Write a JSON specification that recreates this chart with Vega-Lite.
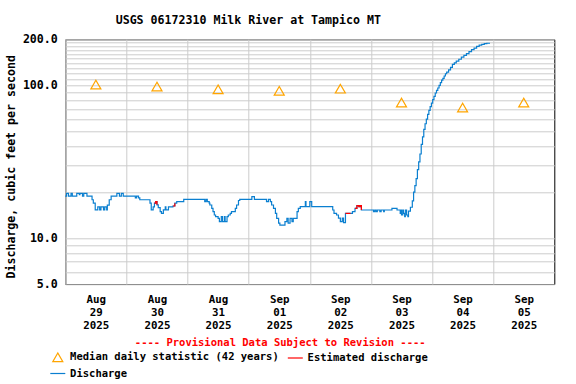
{
  "$schema": "https://vega.github.io/schema/vega-lite/v6.json",
  "width": 489,
  "height": 244.7,
  "autosize": {"type": "none"},
  "padding": {"left": 65.3, "top": 39.3, "right": 21.7, "bottom": 100},
  "background": "#ffffff",
  "config": {
    "font": "DejaVu Sans Mono",
    "view": {"stroke": "#000000", "strokeWidth": 1},
    "axis": {
      "labelFont": "DejaVu Sans Mono", "labelFontWeight": "bold", "labelColor": "#000000",
      "titleFont": "DejaVu Sans Mono", "titleFontWeight": "bold", "titleColor": "#000000",
      "gridColor": "#cccccc", "gridOpacity": 1, "gridWidth": 1,
      "domain": false, "ticks": false, "tickSize": 0,
      "labelOverlap": false, "labelFlush": false, "labelBound": false
    }
  },
  "title": {
    "text": "USGS 06172310 Milk River at Tampico MT",
    "font": "DejaVu Sans Mono", "fontWeight": "bold", "fontSize": 11.6, "color": "#000000",
    "anchor": "middle", "frame": "group", "dx": -61.5, "offset": -2, "baseline": "alphabetic"
  },
  "datasets": {
    "discharge": [
      {"t":"2025-08-29T00:00","v":18.8,"s":"Discharge"},{"t":"2025-08-29T00:30","v":19.6,"s":"Discharge"},{"t":"2025-08-29T01:15","v":18.8,"s":"Discharge"},{"t":"2025-08-29T02:15","v":19.6,"s":"Discharge"},{"t":"2025-08-29T02:45","v":18.8,"s":"Discharge"},{"t":"2025-08-29T04:30","v":19.6,"s":"Discharge"},{"t":"2025-08-29T05:30","v":19.2,"s":"Discharge"},{"t":"2025-08-29T05:45","v":19.6,"s":"Discharge"},{"t":"2025-08-29T06:45","v":18.8,"s":"Discharge"},{"t":"2025-08-29T07:15","v":19.6,"s":"Discharge"},{"t":"2025-08-29T08:30","v":18.8,"s":"Discharge"},{"t":"2025-08-29T10:30","v":17.8,"s":"Discharge"},{"t":"2025-08-29T11:00","v":16.9,"s":"Discharge"},{"t":"2025-08-29T11:45","v":15.3,"s":"Discharge"},{"t":"2025-08-29T12:45","v":16.0,"s":"Discharge"},{"t":"2025-08-29T13:30","v":15.3,"s":"Discharge"},{"t":"2025-08-29T14:00","v":16.0,"s":"Discharge"},{"t":"2025-08-29T15:00","v":15.3,"s":"Discharge"},{"t":"2025-08-29T15:30","v":16.0,"s":"Discharge"},{"t":"2025-08-29T16:15","v":15.3,"s":"Discharge"},{"t":"2025-08-29T16:30","v":16.4,"s":"Discharge"},{"t":"2025-08-29T17:15","v":17.8,"s":"Discharge"},{"t":"2025-08-29T18:00","v":18.8,"s":"Discharge"},{"t":"2025-08-29T20:15","v":19.6,"s":"Discharge"},{"t":"2025-08-29T21:15","v":18.8,"s":"Discharge"},{"t":"2025-08-29T22:00","v":19.6,"s":"Discharge"},{"t":"2025-08-29T22:45","v":18.8,"s":"Discharge"},
      {"t":"2025-08-30T03:30","v":18.3,"s":"Discharge"},{"t":"2025-08-30T04:00","v":18.8,"s":"Discharge"},{"t":"2025-08-30T04:45","v":18.3,"s":"Discharge"},{"t":"2025-08-30T05:15","v":17.8,"s":"Discharge"},{"t":"2025-08-30T09:15","v":16.9,"s":"Discharge"},{"t":"2025-08-30T09:45","v":15.3,"s":"Discharge"},{"t":"2025-08-30T10:30","v":16.0,"s":"Discharge"},{"t":"2025-08-30T11:00","v":16.9,"s":"Discharge"},{"t":"2025-08-30T11:30","v":17.3,"s":"Discharge"},{"t":"2025-08-30T12:00","v":16.5,"s":"Discharge"},{"t":"2025-08-30T12:30","v":15.8,"s":"Discharge"},{"t":"2025-08-30T13:15","v":14.9,"s":"Discharge"},{"t":"2025-08-30T13:45","v":14.5,"s":"Discharge"},{"t":"2025-08-30T14:30","v":15.3,"s":"Discharge"},{"t":"2025-08-30T15:15","v":16.0,"s":"Discharge"},{"t":"2025-08-30T15:30","v":15.3,"s":"Discharge"},{"t":"2025-08-30T16:30","v":16.0,"s":"Discharge"},{"t":"2025-08-30T18:15","v":16.2,"s":"Discharge"},{"t":"2025-08-30T19:00","v":16.9,"s":"Discharge"},{"t":"2025-08-30T19:45","v":17.3,"s":"Discharge"},{"t":"2025-08-30T22:30","v":17.9,"s":"Discharge"},
      {"t":"2025-08-31T06:45","v":17.3,"s":"Discharge"},{"t":"2025-08-31T07:15","v":17.9,"s":"Discharge"},{"t":"2025-08-31T07:45","v":17.3,"s":"Discharge"},{"t":"2025-08-31T08:30","v":16.9,"s":"Discharge"},{"t":"2025-08-31T08:45","v":16.45,"s":"Discharge"},{"t":"2025-08-31T09:30","v":15.65,"s":"Discharge"},{"t":"2025-08-31T10:00","v":14.9,"s":"Discharge"},{"t":"2025-08-31T10:30","v":14.15,"s":"Discharge"},{"t":"2025-08-31T11:00","v":13.8,"s":"Discharge"},{"t":"2025-08-31T12:00","v":13.46,"s":"Discharge"},{"t":"2025-08-31T12:30","v":12.8,"s":"Discharge"},{"t":"2025-08-31T13:15","v":13.8,"s":"Discharge"},{"t":"2025-08-31T13:45","v":12.8,"s":"Discharge"},{"t":"2025-08-31T14:30","v":13.8,"s":"Discharge"},{"t":"2025-08-31T14:45","v":12.8,"s":"Discharge"},{"t":"2025-08-31T15:30","v":13.8,"s":"Discharge"},{"t":"2025-08-31T16:00","v":14.15,"s":"Discharge"},{"t":"2025-08-31T16:45","v":14.5,"s":"Discharge"},{"t":"2025-08-31T17:15","v":14.9,"s":"Discharge"},{"t":"2025-08-31T18:45","v":15.65,"s":"Discharge"},{"t":"2025-08-31T19:15","v":16.45,"s":"Discharge"},{"t":"2025-08-31T20:00","v":17.6,"s":"Discharge"},{"t":"2025-08-31T20:30","v":17.9,"s":"Discharge"},
      {"t":"2025-09-01T01:15","v":18.65,"s":"Discharge"},{"t":"2025-09-01T02:15","v":17.9,"s":"Discharge"},{"t":"2025-09-01T07:00","v":17.3,"s":"Discharge"},{"t":"2025-09-01T07:45","v":17.9,"s":"Discharge"},{"t":"2025-09-01T08:30","v":17.3,"s":"Discharge"},{"t":"2025-09-01T09:00","v":16.45,"s":"Discharge"},{"t":"2025-09-01T09:45","v":15.65,"s":"Discharge"},{"t":"2025-09-01T10:30","v":14.5,"s":"Discharge"},{"t":"2025-09-01T11:00","v":13.46,"s":"Discharge"},{"t":"2025-09-01T11:45","v":12.5,"s":"Discharge"},{"t":"2025-09-01T12:15","v":12.16,"s":"Discharge"},{"t":"2025-09-01T14:15","v":12.8,"s":"Discharge"},{"t":"2025-09-01T15:00","v":13.46,"s":"Discharge"},{"t":"2025-09-01T15:30","v":12.5,"s":"Discharge"},{"t":"2025-09-01T16:15","v":13.46,"s":"Discharge"},{"t":"2025-09-01T17:00","v":12.8,"s":"Discharge"},{"t":"2025-09-01T17:30","v":13.46,"s":"Discharge"},{"t":"2025-09-01T19:00","v":14.9,"s":"Discharge"},{"t":"2025-09-01T19:30","v":15.65,"s":"Discharge"},{"t":"2025-09-01T20:15","v":16.03,"s":"Discharge"},{"t":"2025-09-01T22:15","v":17.3,"s":"Discharge"},{"t":"2025-09-01T22:30","v":16.03,"s":"Discharge"},
      {"t":"2025-09-02T00:00","v":17.3,"s":"Discharge"},{"t":"2025-09-02T00:45","v":16.03,"s":"Discharge"},{"t":"2025-09-02T09:00","v":15.26,"s":"Discharge"},{"t":"2025-09-02T09:30","v":14.5,"s":"Discharge"},{"t":"2025-09-02T10:30","v":14.15,"s":"Discharge"},{"t":"2025-09-02T11:15","v":13.5,"s":"Discharge"},{"t":"2025-09-02T12:00","v":12.8,"s":"Discharge"},{"t":"2025-09-02T12:45","v":13.5,"s":"Discharge"},{"t":"2025-09-02T13:15","v":12.6,"s":"Discharge"},{"t":"2025-09-02T14:00","v":14.5,"s":"Discharge"},{"t":"2025-09-02T16:45","v":14.9,"s":"Discharge"},{"t":"2025-09-02T17:45","v":15.65,"s":"Discharge"},{"t":"2025-09-02T18:30","v":16.3,"s":"Discharge"},{"t":"2025-09-02T19:15","v":16.03,"s":"Discharge"},{"t":"2025-09-02T19:45","v":16.3,"s":"Discharge"},{"t":"2025-09-02T20:15","v":15.26,"s":"Discharge"},
      {"t":"2025-09-03T01:00","v":14.9,"s":"Discharge"},{"t":"2025-09-03T01:30","v":15.26,"s":"Discharge"},{"t":"2025-09-03T02:00","v":14.9,"s":"Discharge"},{"t":"2025-09-03T02:30","v":15.26,"s":"Discharge"},{"t":"2025-09-03T03:30","v":14.9,"s":"Discharge"},{"t":"2025-09-03T04:00","v":15.26,"s":"Discharge"},{"t":"2025-09-03T05:00","v":14.9,"s":"Discharge"},{"t":"2025-09-03T05:15","v":15.26,"s":"Discharge"},{"t":"2025-09-03T08:15","v":15.65,"s":"Discharge"},{"t":"2025-09-03T10:15","v":15.26,"s":"Discharge"},{"t":"2025-09-03T11:30","v":14.5,"s":"Discharge"},{"t":"2025-09-03T11:45","v":15.26,"s":"Discharge"},{"t":"2025-09-03T12:00","v":14.15,"s":"Discharge"},{"t":"2025-09-03T12:30","v":15.26,"s":"Discharge"},{"t":"2025-09-03T12:45","v":14.5,"s":"Discharge"},{"t":"2025-09-03T13:15","v":13.8,"s":"Discharge"},{"t":"2025-09-03T13:30","v":15.26,"s":"Discharge"},{"t":"2025-09-03T14:00","v":14.15,"s":"Discharge"},{"t":"2025-09-03T14:30","v":13.8,"s":"Discharge"},{"t":"2025-09-03T14:45","v":15.0,"s":"Discharge"},{"t":"2025-09-03T15:30","v":15.9,"s":"Discharge"},{"t":"2025-09-03T16:15","v":17.5,"s":"Discharge"},{"t":"2025-09-03T16:45","v":20.0,"s":"Discharge"},{"t":"2025-09-03T17:15","v":22.0,"s":"Discharge"},{"t":"2025-09-03T17:45","v":24.5,"s":"Discharge"},{"t":"2025-09-03T18:15","v":28.0,"s":"Discharge"},{"t":"2025-09-03T18:45","v":31.5,"s":"Discharge"},{"t":"2025-09-03T19:15","v":35.5,"s":"Discharge"},{"t":"2025-09-03T19:45","v":41.0,"s":"Discharge"},{"t":"2025-09-03T20:15","v":46.0,"s":"Discharge"},{"t":"2025-09-03T20:45","v":51.5,"s":"Discharge"},{"t":"2025-09-03T21:15","v":56.0,"s":"Discharge"},{"t":"2025-09-03T21:45","v":60.0,"s":"Discharge"},{"t":"2025-09-03T22:15","v":64.5,"s":"Discharge"},{"t":"2025-09-03T22:45","v":68.5,"s":"Discharge"},{"t":"2025-09-03T23:15","v":72.5,"s":"Discharge"},{"t":"2025-09-03T23:45","v":76.5,"s":"Discharge"},
      {"t":"2025-09-04T00:15","v":80.5,"s":"Discharge"},{"t":"2025-09-04T00:45","v":84.5,"s":"Discharge"},{"t":"2025-09-04T01:15","v":89.0,"s":"Discharge"},{"t":"2025-09-04T01:45","v":92.5,"s":"Discharge"},{"t":"2025-09-04T02:15","v":96.0,"s":"Discharge"},{"t":"2025-09-04T02:45","v":100,"s":"Discharge"},{"t":"2025-09-04T03:15","v":104,"s":"Discharge"},{"t":"2025-09-04T03:45","v":108,"s":"Discharge"},{"t":"2025-09-04T04:15","v":111,"s":"Discharge"},{"t":"2025-09-04T04:45","v":115,"s":"Discharge"},{"t":"2025-09-04T05:15","v":119,"s":"Discharge"},{"t":"2025-09-04T05:45","v":122,"s":"Discharge"},{"t":"2025-09-04T06:30","v":126,"s":"Discharge"},{"t":"2025-09-04T07:15","v":131,"s":"Discharge"},{"t":"2025-09-04T08:00","v":137,"s":"Discharge"},{"t":"2025-09-04T08:45","v":140,"s":"Discharge"},{"t":"2025-09-04T09:30","v":144,"s":"Discharge"},{"t":"2025-09-04T10:30","v":148,"s":"Discharge"},{"t":"2025-09-04T11:30","v":153,"s":"Discharge"},{"t":"2025-09-04T12:30","v":157,"s":"Discharge"},{"t":"2025-09-04T13:30","v":161,"s":"Discharge"},{"t":"2025-09-04T14:30","v":166,"s":"Discharge"},{"t":"2025-09-04T15:30","v":171,"s":"Discharge"},{"t":"2025-09-04T16:30","v":175,"s":"Discharge"},{"t":"2025-09-04T17:30","v":180,"s":"Discharge"},{"t":"2025-09-04T18:30","v":183,"s":"Discharge"},{"t":"2025-09-04T19:30","v":185.5,"s":"Discharge"},{"t":"2025-09-04T20:30","v":187.5,"s":"Discharge"},{"t":"2025-09-04T21:30","v":188.5,"s":"Discharge"},{"t":"2025-09-04T22:45","v":188.5,"s":"Discharge"}
    ],
    "estimated": [
      {"t":"2025-08-30T11:00","v":16.9,"s":"Estimated discharge","g":"e1"},{"t":"2025-08-30T11:30","v":17.3,"s":"Estimated discharge","g":"e1"},{"t":"2025-08-30T12:00","v":16.5,"s":"Estimated discharge","g":"e1"},
      {"t":"2025-08-30T18:15","v":16.2,"s":"Estimated discharge","g":"e2"},{"t":"2025-08-30T19:00","v":16.9,"s":"Estimated discharge","g":"e2"},
      {"t":"2025-09-02T14:00","v":14.5,"s":"Estimated discharge","g":"e3"},{"t":"2025-09-02T16:00","v":14.5,"s":"Estimated discharge","g":"e3"},
      {"t":"2025-09-02T17:45","v":15.65,"s":"Estimated discharge","g":"e4"},{"t":"2025-09-02T18:30","v":16.3,"s":"Estimated discharge","g":"e4"},{"t":"2025-09-02T19:15","v":16.03,"s":"Estimated discharge","g":"e4"},{"t":"2025-09-02T19:45","v":16.3,"s":"Estimated discharge","g":"e4"},{"t":"2025-09-02T20:15","v":15.26,"s":"Estimated discharge","g":"e4"}
    ],
    "median": [
      {"t":"2025-08-29T12:00","v":101,"s":"Median daily statistic (42 years)"},
      {"t":"2025-08-30T12:00","v":98,"s":"Median daily statistic (42 years)"},
      {"t":"2025-08-31T12:00","v":94,"s":"Median daily statistic (42 years)"},
      {"t":"2025-09-01T12:00","v":92,"s":"Median daily statistic (42 years)"},
      {"t":"2025-09-02T12:00","v":95,"s":"Median daily statistic (42 years)"},
      {"t":"2025-09-03T12:00","v":77,"s":"Median daily statistic (42 years)"},
      {"t":"2025-09-04T12:00","v":71.5,"s":"Median daily statistic (42 years)"},
      {"t":"2025-09-05T12:00","v":77,"s":"Median daily statistic (42 years)"}
    ]
  },
  "encoding": {
    "x": {
      "field": "t", "type": "temporal",
      "scale": {"domain": [{"year": 2025, "month": 8, "date": 29}, {"year": 2025, "month": 9, "date": 6}]},
      "axis": {
        "values": [
          {"year": 2025, "month": 8, "date": 29}, {"year": 2025, "month": 8, "date": 30},
          {"year": 2025, "month": 8, "date": 31}, {"year": 2025, "month": 9, "date": 1},
          {"year": 2025, "month": 9, "date": 2}, {"year": 2025, "month": 9, "date": 3},
          {"year": 2025, "month": 9, "date": 4}, {"year": 2025, "month": 9, "date": 5}
        ],
        "labelExpr": "[timeFormat(datum.value, '%b'), timeFormat(datum.value, '%d'), timeFormat(datum.value, '%Y')]",
        "labelOffset": 30.55, "labelPadding": 9, "labelLineHeight": 13, "labelFontSize": 10.8,
        "labelBaseline": "top", "labelAngle": 0, "labelAlign": "center", "grid": true,
        "title": "---- Provisional Data Subject to Revision ----",
        "titleColor": "#ff0000", "titleFontSize": 10.5,
        "titleX": 214.4, "titleY": 58.7, "titleAlign": "center", "titleBaseline": "middle", "titleAnchor": null
      }
    },
    "y": {
      "field": "v", "type": "quantitative",
      "scale": {"type": "log", "domain": [5, 200], "nice": false},
      "axis": {
        "values": [5, 6, 7, 8, 9, 10, 20, 30, 40, 50, 60, 70, 80, 90, 100, 110, 120, 130, 140, 150, 160, 170, 180, 190, 200],
        "labelExpr": "indexof([5, 10, 100, 200], datum.value) >= 0 ? format(datum.value, '.1f') : ''",
        "labelFontSize": 11.6, "labelPadding": 8, "grid": true,
        "title": "Discharge, cubic feet per second", "titleFontSize": 11.6,
        "titleX": -54.3, "titleY": 127, "titleAngle": -90, "titleAlign": "center", "titleBaseline": "middle"
      }
    },
    "color": {
      "field": "s", "type": "nominal",
      "scale": {
        "domain": ["Median daily statistic (42 years)", "Estimated discharge", "Discharge"],
        "range": ["#ffa500", "#ff0000", "#0a7fd0"]
      },
      "legend": {
        "orient": "none", "legendX": -16, "legendY": 309.2, "direction": "horizontal", "columns": 2,
        "title": null, "padding": 0, "labelLimit": 0,
        "labelFont": "DejaVu Sans Mono", "labelFontWeight": "bold", "labelFontSize": 10.5, "labelColor": "#000000",
        "symbolSize": 225, "symbolStrokeWidth": 1.2, "symbolType": "stroke",
        "labelOffset": 3.8, "columnPadding": 5.5, "rowPadding": 0.5,
        "encode": {
          "symbols": {
            "update": {
              "shape": {"signal": "datum.value === 'Median daily statistic (42 years)' ? 'triangle-up' : 'stroke'"},
              "size": {"signal": "datum.value === 'Median daily statistic (42 years)' ? 100 : 225"},
              "fill": {"value": "transparent"},
              "stroke": {"signal": "datum.value === 'Median daily statistic (42 years)' ? '#ffa500' : (datum.value === 'Estimated discharge' ? '#ff0000' : '#0a7fd0')"}
            }
          }
        }
      }
    }
  },
  "layer": [
    {
      "data": {"name": "discharge"},
      "mark": {"type": "line", "interpolate": "step-after", "strokeWidth": 1.2}
    },
    {
      "data": {"name": "estimated"},
      "mark": {"type": "line", "interpolate": "step-after", "strokeWidth": 1.2},
      "encoding": {"detail": {"field": "g", "type": "nominal"}}
    },
    {
      "data": {"name": "median"},
      "mark": {"type": "point", "shape": "triangle-up", "filled": false, "size": 100, "strokeWidth": 1.2, "opacity": 1}
    }
  ]
}
